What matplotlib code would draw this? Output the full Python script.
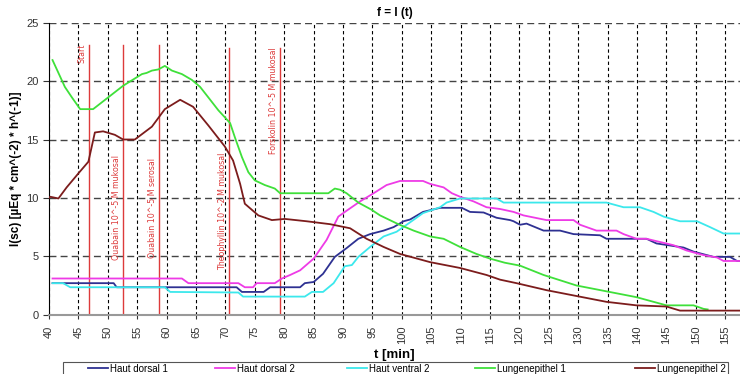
import matplotlib
matplotlib.use("Agg")
import matplotlib.pyplot as plt
from matplotlib.patches import Rectangle

plt.rcParams['font.family'] = ['Liberation Sans', 'DejaVu Sans']

# Haut dorsal 1
hd1_t = [40.6, 51.0, 51.5, 71.9, 72.8, 76.5, 77.6, 82.7, 83.5, 85.0, 86.6, 88.6, 90.6, 92.6,
         94.6, 96.9, 98.6, 100.3, 101.4, 103.6, 106.5, 110.2, 111.6, 113.9, 116.1, 118.4,
         119.0, 120.1, 121.2, 124.1, 126.9, 129.2, 133.7, 134.8, 141.6, 143.3, 147.9,
         149.6, 153.0, 155.8, 157.0, 157.5]
hd1_i = [2.7, 2.7, 2.35, 2.35, 1.95, 1.95, 2.35, 2.35, 2.7, 2.8, 3.5, 4.95, 5.7, 6.5,
         6.9, 7.2, 7.5, 8.0, 8.15, 8.8, 9.15, 9.15, 8.8, 8.75, 8.3, 8.1,
         8.0, 7.7, 7.8, 7.2, 7.2, 6.9, 6.8, 6.5, 6.5, 6.1, 5.75,
         5.4, 4.95, 4.95, 4.6, 4.6]

# Haut dorsal 2
hd2_t = [40.6, 62.6, 63.7, 72.2, 73.3, 74.7, 75.3, 78.4, 79.6, 81.0, 82.7, 85.0, 87.2,
         89.2, 90.6, 92.9, 95.2, 97.4, 99.7, 103.6, 104.8, 107.1, 108.5, 109.9, 112.2,
         114.4, 116.7, 119.0, 120.7, 124.6, 129.2, 130.3, 133.1, 136.5, 137.7, 139.9,
         141.6, 146.2, 148.4, 151.3, 153.6, 154.7, 157.5]
hd2_i = [3.1, 3.1, 2.7, 2.7, 2.35, 2.35, 2.7, 2.7, 3.1, 3.4, 3.8, 4.8, 6.4,
         8.4, 8.9, 9.7, 10.4, 11.1, 11.45, 11.45, 11.2, 10.9, 10.4, 10.1, 9.7,
         9.2, 9.05, 8.8, 8.5, 8.1, 8.1, 7.7, 7.2, 7.2, 6.9, 6.5,
         6.5, 5.95, 5.5, 5.1, 4.9, 4.6, 4.6]

# Haut ventral 2
hv2_t = [40.6, 42.4, 43.6, 59.7, 60.6, 72.2, 73.0, 83.5, 84.7, 86.6, 88.4, 90.3, 91.5,
         92.6, 94.6, 96.9, 99.1, 101.1, 103.6, 106.5, 107.6, 109.9, 116.1, 117.3,
         134.8, 137.7, 140.5, 142.8, 144.5, 147.3, 150.2, 152.4, 154.7, 157.5]
hv2_i = [2.7, 2.7, 2.35, 2.35, 1.95, 1.9, 1.55, 1.55, 1.95, 1.95, 2.7, 4.15, 4.25,
         4.95, 5.8, 6.7, 7.1, 7.8, 8.7, 9.2, 9.6, 9.95, 9.95, 9.6,
         9.6, 9.2, 9.2, 8.8, 8.4, 8.0, 8.0, 7.5, 6.95, 6.95]

# Lungenepithel 1
le1_t = [40.6, 42.7, 43.9, 45.3, 47.5, 52.6, 55.8, 56.6, 57.5, 58.6, 59.7, 60.9, 62.6,
         64.3, 65.7, 67.1, 68.8, 69.9, 70.8, 71.6, 72.8, 73.9, 75.0, 76.7, 78.4, 79.3,
         87.5, 88.6, 89.5, 90.6, 92.6, 94.8, 96.3, 99.4, 102.0, 104.8, 107.1, 109.9,
         112.7, 115.0, 117.5, 120.1, 124.1, 129.7, 134.8, 139.9, 145.0, 149.6, 151.3, 152.0]
le1_i = [21.8, 19.5, 18.6, 17.6, 17.6, 19.6, 20.6, 20.7, 20.9, 21.0, 21.3, 20.9, 20.6,
         20.1, 19.5, 18.6, 17.5, 16.9, 16.4, 15.2, 13.5, 12.2, 11.5, 11.1, 10.8, 10.4,
         10.4, 10.8, 10.7, 10.4, 9.6, 9.0, 8.5, 7.75, 7.2, 6.7, 6.5, 5.8,
         5.2, 4.8, 4.45, 4.2, 3.4, 2.5, 2.0, 1.5, 0.8, 0.8, 0.5, 0.45]

# Lungenepithel 2
le2_t = [40.0, 40.2, 41.6, 43.0, 45.0, 46.7, 47.8, 49.2, 51.2, 52.6, 54.6, 57.5, 59.7,
         62.3, 64.5, 67.1, 69.9, 71.3, 72.5, 73.3, 75.6, 77.9, 80.1, 83.8, 87.8, 91.2,
         94.0, 96.9, 99.7, 104.8, 109.9, 114.4, 116.7, 119.5, 124.6, 129.7, 134.8,
         139.9, 145.0, 147.3, 157.5]
le2_i = [10.0, 10.1, 9.95, 10.9, 12.1, 13.1, 15.6, 15.7, 15.4, 15.0, 15.0, 16.1, 17.6,
         18.4, 17.8, 16.2, 14.4, 13.2, 11.2, 9.5, 8.5, 8.1, 8.2, 8.0, 7.75, 7.4,
         6.5, 5.8, 5.2, 4.5, 4.0, 3.4, 3.0, 2.7, 2.1, 1.6, 1.1,
         0.8, 0.7, 0.35, 0.35]

series = [
    ("Haut dorsal 1", hd1_t, hd1_i, "#2e3192"),
    ("Haut dorsal 2", hd2_t, hd2_i, "#ee3be6"),
    ("Haut ventral 2", hv2_t, hv2_i, "#3ce8ec"),
    ("Lungenepithel 1", le1_t, le1_i, "#3fe03a"),
    ("Lungenepithel 2", le2_t, le2_i, "#7c1c1c"),
]

# substance additions: time, label, top of line, text anchor
event_t = [46.75, 52.6, 58.7, 70.6, 79.3]
event_lbl = ["Start", "Ouabain 10^-5 M mukosal", "Ouabain 10^-5 M serosal",
             "Theophyllin 10^-2 M mukosal", "Forskolin 10^-5 M mukosal"]
event_top = [23.1, 23.1, 23.1, 22.8, 22.8]
event_txt_y = [23.2, 4.7, 4.85, 3.8, 22.9]
event_va = ["top", "bottom", "bottom", "bottom", "top"]

# legend entry left edges (pixels) as in the original
leg_x = [88, 215, 347, 475, 635]

fig = plt.figure(figsize=(7.4, 3.74), dpi=100)
ax = fig.add_axes([49 / 740, 1 - 314.7 / 374, 1 - 49 / 740, (314.7 - 22.7) / 374])

lines = []
for name, t, i, c in series:
    ln, = ax.plot(t, i, color=c, lw=1.3, label=name, zorder=3)
    lines.append(ln)

for t, lbl, top, ty, va in zip(event_t, event_lbl, event_top, event_txt_y, event_va):
    ax.plot([t, t], [0, top], color="#dd3b3b", lw=1.0, zorder=2)
    ax.text(t - 1.15, ty, lbl, rotation=90, ha="center", va=va, color="#dd3b3b",
            fontsize=5.7, family=["Liberation Sans Narrow", "DejaVu Sans"], zorder=4)

ax.set_xlim(40, 157.5)
ax.set_ylim(0, 25)
ax.set_xticks(range(40, 160, 5))
ax.set_yticks(range(0, 30, 5))
ax.tick_params(axis="x", labelrotation=90, labelsize=8, length=3, pad=5, colors="#333333")
ax.tick_params(axis="y", labelsize=8, length=4, colors="#333333")

ax.xaxis.grid(True, color="black", lw=0.8, ls=(0, (3, 2.5)))
ax.yaxis.grid(True, color="#444444", lw=1.0, ls=(0, (5, 3)))
ax.set_axisbelow(True)

ax.spines["top"].set_visible(False)
ax.spines["right"].set_visible(False)
ax.spines["left"].set_color("black")
ax.spines["bottom"].set_color("#999999")
ax.spines["bottom"].set_linewidth(1.5)

ax.set_title("f = I (t)", fontsize=8.5, fontweight="bold", pad=5)
ax.set_xlabel("t [min]", fontsize=9.5, fontweight="bold", labelpad=3)
ax.set_ylabel("I(sc) [µEq * cm^(-2) * h^(-1)]", fontsize=8.5, fontweight="bold", labelpad=3)

# legend frame, cut off at the bottom like the original
fig.add_artist(Rectangle((63 / 740, -0.02), (728 - 63) / 740, 1 - 362 / 374 + 0.02,
                         transform=fig.transFigure, fill=False, edgecolor="#555555", lw=0.8))
for ln, x in zip(lines, leg_x):
    fig.legend([ln], [ln.get_label()], loc="center left",
               bbox_to_anchor=(x / 740, 1 - 368.5 / 374), fontsize=7, frameon=False,
               handlelength=2.1, handletextpad=0.2, borderpad=0, borderaxespad=0)

fig.savefig("out.png", dpi=100)
